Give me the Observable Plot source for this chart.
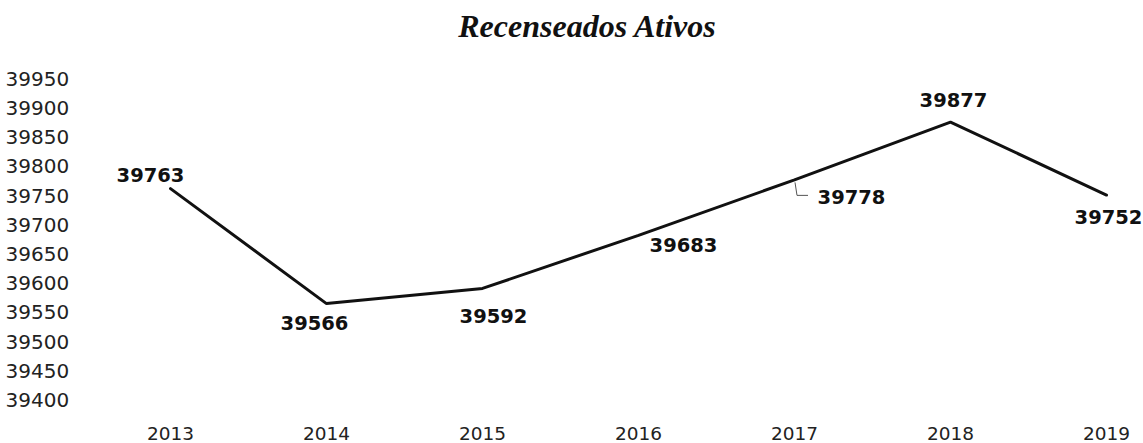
<!DOCTYPE html>
<html>
<head>
<meta charset="utf-8">
<script src="https://cdn.jsdelivr.net/npm/d3@7"></script>
<script src="https://cdn.jsdelivr.net/npm/@observablehq/plot@0.6"></script>
<style>
  body { margin: 0; background: #fff; }
  #wrap { position: relative; width: 1143px; height: 443px; overflow: hidden; }
  #title {
    position: absolute; top: 7px; left: 587px; transform: translateX(-50%);
    font-family: "Liberation Serif", serif; font-weight: bold; font-style: italic;
    font-size: 32px; line-height: 38px; color: #111; white-space: nowrap;
  }
  #chart { position: absolute; top: 50px; left: 0; }
</style>
</head>
<body>
<div id="wrap">
  <div id="title">Recenseados Ativos</div>
  <div id="chart"></div>
</div>
<script>
const years = ["2013", "2014", "2015", "2016", "2017", "2018", "2019"];
const values = [39763, 39566, 39592, 39683, 39778, 39877, 39752];
const yTicks = [39400, 39450, 39500, 39550, 39600, 39650, 39700, 39750, 39800, 39850, 39900, 39950];

const data = years.map((year, i) => ({year, value: values[i]}));

// label placement (offsets from each point, in px)
const labelOffsets = {
  "2013": [-20, -13],
  "2014": [-12, 20],
  "2015": [11, 28],
  "2016": [45, 10],
  "2017": [57, 18],
  "2018": [3, -21],
  "2019": [2, 23]
};

const labelMarks = years.map(yr => Plot.text(data.filter(d => d.year === yr), {
  x: "year", y: "value", text: d => String(d.value),
  dx: labelOffsets[yr][0], dy: labelOffsets[yr][1],
  fontWeight: "bold", fontSize: 19.5, fill: "#111", fontFamily: "DejaVu Sans"
}));

// leader line for the 2017 label
const leader = Plot.dot(data.filter(d => d.year === "2017"), {
  x: "year", y: "value",
  render: (index, scales, values, dims) => {
    const g = d3.create("svg:g");
    for (const i of index) {
      const px = values.x[i], py = values.y[i];
      g.append("path")
        .attr("d", `M${px + 1},${py + 3}L${px + 3},${py + 16}L${px + 14},${py + 16}`)
        .attr("fill", "none").attr("stroke", "#555").attr("stroke-width", 1);
    }
    return g.node();
  }
});

const plot = Plot.plot({
  width: 1143,
  height: 393,
  marginLeft: 168,
  marginRight: 36,
  marginTop: 29,
  marginBottom: 43,
  style: {fontFamily: "DejaVu Sans", fontSize: "18px", color: "#222", background: "#fff"},
  x: {type: "point", domain: years, padding: 0, label: null},
  y: {domain: [39400, 39950], label: null},
  marks: [
    Plot.axisY(yTicks, {tickSize: 0, textAnchor: "start", dx: -154, fontSize: 20, label: null, tickFormat: d => String(d)}),
    Plot.axisX({tickSize: 0, tickPadding: 26, fontSize: 18.5, label: null}),
    Plot.line(data, {x: "year", y: "value", stroke: "#111", strokeWidth: 3, strokeLinejoin: "miter"}),
    leader,
    ...labelMarks
  ]
});
document.getElementById("chart").appendChild(plot);
</script>
</body>
</html>
